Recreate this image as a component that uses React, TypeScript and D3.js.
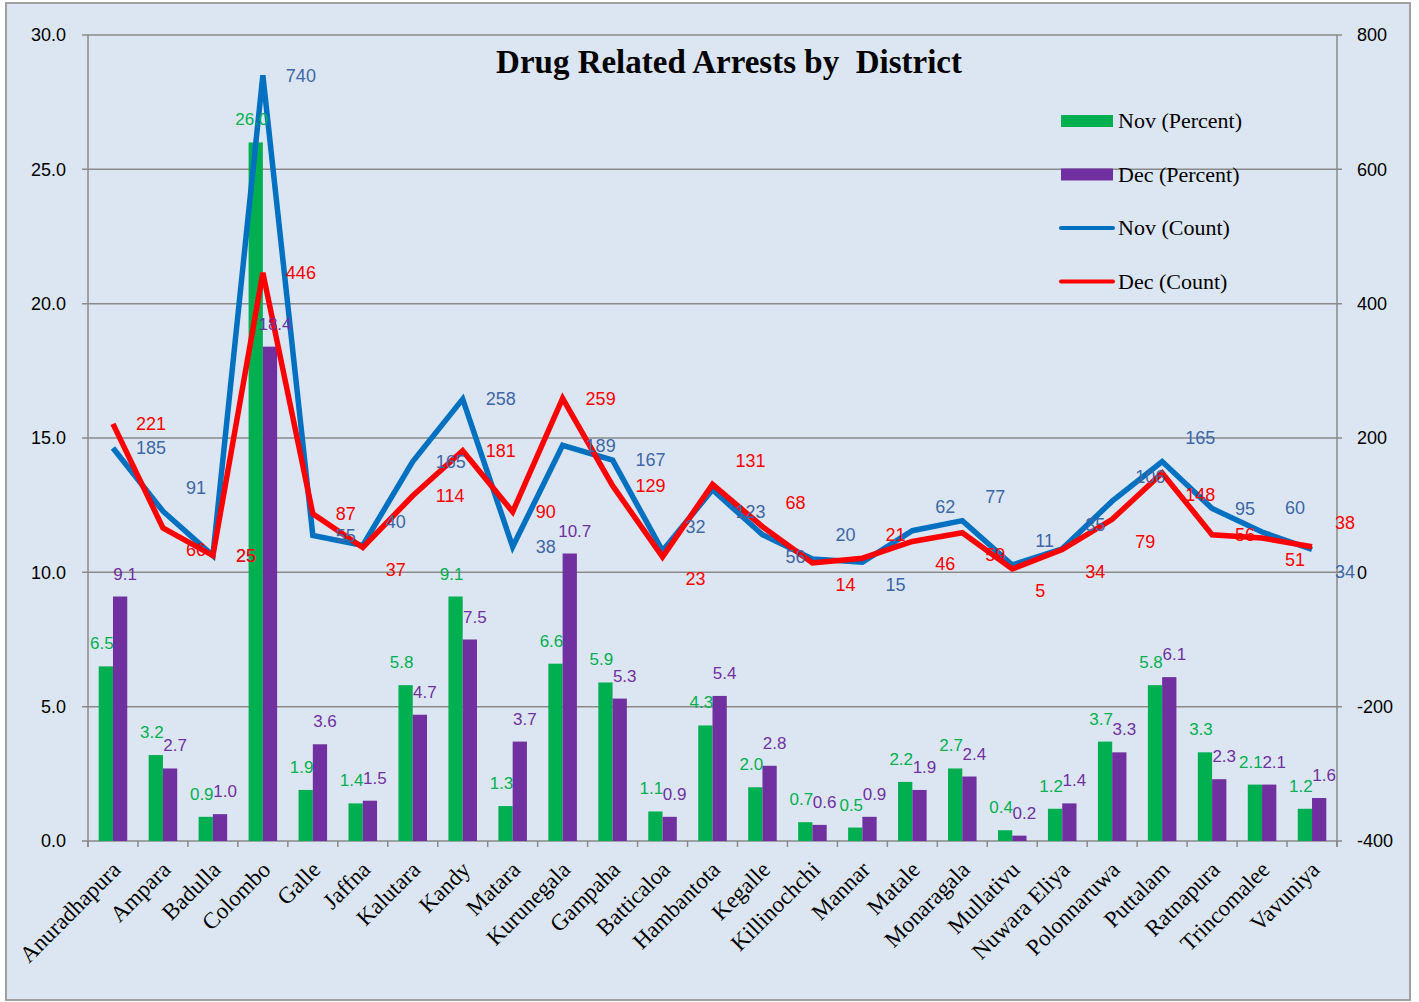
import { useEffect, useRef } from 'react';
import * as d3 from 'd3';

const districts = [
  'Anuradhapura', 'Ampara', 'Badulla', 'Colombo', 'Galle', 'Jaffna', 'Kalutara', 'Kandy', 'Matara',
  'Kurunegala', 'Gampaha', 'Batticaloa', 'Hambantota', 'Kegalle', 'Killinochchi', 'Mannar', 'Matale',
  'Monaragala', 'Mullativu', 'Nuwara Eliya', 'Polonnaruwa', 'Puttalam', 'Ratnapura', 'Trincomalee', 'Vavuniya',
];
const novPercent = [6.5, 3.2, 0.9, 26.0, 1.9, 1.4, 5.8, 9.1, 1.3, 6.6, 5.9, 1.1, 4.3, 2.0, 0.7, 0.5, 2.2, 2.7, 0.4, 1.2, 3.7, 5.8, 3.3, 2.1, 1.2];
const decPercent = [9.1, 2.7, 1.0, 18.4, 3.6, 1.5, 4.7, 7.5, 3.7, 10.7, 5.3, 0.9, 5.4, 2.8, 0.6, 0.9, 1.9, 2.4, 0.2, 1.4, 3.3, 6.1, 2.3, 2.1, 1.6];
const novCount = [185, 91, 25, 740, 55, 40, 165, 258, 38, 189, 167, 32, 123, 56, 20, 15, 62, 77, 11, 35, 106, 165, 95, 60, 34];
const decCount = [221, 66, 25, 446, 87, 37, 114, 181, 90, 259, 129, 23, 131, 68, 14, 21, 46, 59, 5, 34, 79, 148, 56, 51, 38];
const leftTicks = [0, 5, 10, 15, 20, 25, 30];
const rightTicks = [-400, -200, 0, 200, 400, 600, 800];

const SANS = '"Liberation Sans", Arial, sans-serif';
const SERIF = '"Liberation Serif", "Times New Roman", serif';
const GREEN = '#00b050';
const PURPLE = '#7030a0';
const BLUE = '#0070c0';
const RED = '#ff0000';
const GRID = '#8a8a8a';

export default function App() {
  const svgRef = useRef<SVGSVGElement>(null);

  useEffect(() => {
    document.body.style.margin = '0';
    const svg = d3.select(svgRef.current);
    if (!svg.node()) return;
    svg.selectAll('*').remove();

    const width = 1419;
    const height = 1002;
    const plot = { left: 88, right: 1337, top: 35, bottom: 841 };

    svg.attr('viewBox', `0 0 ${width} ${height}`);

    svg.append('rect')
      .attr('x', 6).attr('y', 3).attr('width', 1404).attr('height', 997)
      .attr('fill', '#dce6f2').attr('stroke', '#a0a0a0').attr('stroke-width', 2);

    const x = d3.scaleBand().domain(districts).range([plot.left, plot.right]);
    const x1 = d3.scaleBand().domain(['nov', 'dec']).range([0, x.bandwidth()]).paddingOuter(0.75);
    const yL = d3.scaleLinear().domain([0, 30]).range([plot.bottom, plot.top]);
    const yR = d3.scaleLinear().domain([-400, 800]).range([plot.bottom, plot.top]);

    const g = svg.append('g');

    // gridlines
    g.selectAll('line.grid')
      .data(leftTicks)
      .join('line')
      .attr('class', 'grid')
      .attr('x1', plot.left - 6).attr('x2', plot.right + 5)
      .attr('y1', (d) => yL(d)).attr('y2', (d) => yL(d))
      .attr('stroke', GRID).attr('stroke-width', 1.5);

    // axis lines
    g.append('line').attr('x1', plot.left).attr('x2', plot.left).attr('y1', plot.top).attr('y2', plot.bottom + 6)
      .attr('stroke', GRID).attr('stroke-width', 1.5);
    g.append('line').attr('x1', plot.right).attr('x2', plot.right).attr('y1', plot.top).attr('y2', plot.bottom + 6)
      .attr('stroke', GRID).attr('stroke-width', 1.5);

    // category ticks
    const bounds = districts.map((d) => x(d)!).concat([plot.right]);
    g.selectAll('line.ctick')
      .data(bounds)
      .join('line')
      .attr('class', 'ctick')
      .attr('x1', (d) => d).attr('x2', (d) => d)
      .attr('y1', plot.bottom).attr('y2', plot.bottom + 6)
      .attr('stroke', GRID).attr('stroke-width', 1.5);

    g.selectAll('text.lt')
      .data(leftTicks)
      .join('text')
      .attr('class', 'lt')
      .attr('x', 66).attr('y', (d) => yL(d)).attr('dy', '0.35em')
      .attr('text-anchor', 'end')
      .attr('font-family', SANS).attr('font-size', 18).attr('fill', '#000')
      .text((d) => d.toFixed(1));

    g.selectAll('text.rt')
      .data(rightTicks)
      .join('text')
      .attr('class', 'rt')
      .attr('x', 1357).attr('y', (d) => yR(d)).attr('dy', '0.35em')
      .attr('text-anchor', 'start')
      .attr('font-family', SANS).attr('font-size', 18).attr('fill', '#000')
      .text((d) => `${d}`);

    // bars
    const bars = [
      { key: 'nov', values: novPercent, color: GREEN, shift: -4 },
      { key: 'dec', values: decPercent, color: PURPLE, shift: 5 },
    ];
    bars.forEach((s) => {
      g.append('g')
        .selectAll('rect')
        .data(s.values)
        .join('rect')
        .attr('x', (_, i) => x(districts[i])! + x1(s.key)!)
        .attr('width', x1.bandwidth())
        .attr('y', (d) => yL(d))
        .attr('height', (d) => plot.bottom - yL(d))
        .attr('fill', s.color);
    });

    // lines
    const lines = [
      { values: novCount, other: decCount, color: BLUE, label: '#3f67a6' },
      { values: decCount, other: novCount, color: RED, label: RED },
    ];
    const cx = (i: number) => x(districts[i])! + x.bandwidth() / 2;
    lines.forEach((s) => {
      const line = d3.line<number>().x((_, i) => cx(i)).y((d) => yR(d));
      g.append('path')
        .datum(s.values)
        .attr('d', line)
        .attr('fill', 'none')
        .attr('stroke', s.color)
        .attr('stroke-width', 5.5)
        .attr('stroke-linejoin', 'miter');
    });

    // bar labels
    bars.forEach((s) => {
      g.append('g')
        .selectAll('text')
        .data(s.values)
        .join('text')
        .attr('x', (_, i) => x(districts[i])! + x1(s.key)! + x1.bandwidth() / 2 + s.shift)
        .attr('y', (d) => yL(d) - 17)
        .attr('text-anchor', 'middle')
        .attr('font-family', SANS).attr('font-size', 17).attr('fill', s.color)
        .text((d) => d.toFixed(1));
    });

    // line labels: when the two counts are close, push the higher one up and the lower one down
    lines.forEach((s) => {
      g.append('g')
        .selectAll('text')
        .data(s.values)
        .join('text')
        .attr('x', (_, i) => cx(i) + 23)
        .attr('y', (d, i) => {
          const diff = d - s.other[i];
          let shift = 0;
          if (diff !== 0 && Math.abs(diff) < 32) shift = diff > 0 ? -24 : 22;
          return yR(d) + shift;
        })
        .attr('dy', '0.35em')
        .attr('text-anchor', 'start')
        .attr('font-family', SANS).attr('font-size', 18).attr('fill', s.label)
        .text((d) => `${d}`);
    });

    // category labels
    g.selectAll('text.cat')
      .data(districts)
      .join('text')
      .attr('class', 'cat')
      .attr('transform', (d) => `translate(${x(d)! + x.bandwidth() / 2 + 9},${plot.bottom + 30}) rotate(-45)`)
      .attr('text-anchor', 'end')
      .attr('font-family', SERIF).attr('font-size', 23).attr('fill', '#000')
      .text((d) => d);

    // title
    svg.append('text')
      .attr('x', 729).attr('y', 73)
      .attr('text-anchor', 'middle')
      .attr('font-family', SERIF).attr('font-weight', 'bold').attr('font-size', 33)
      .style('white-space', 'pre')
      .text('Drug Related Arrests by  District');

    // legend
    const legend = [
      { name: 'Nov (Percent)', color: GREEN, type: 'bar' },
      { name: 'Dec (Percent)', color: PURPLE, type: 'bar' },
      { name: 'Nov (Count)', color: BLUE, type: 'line' },
      { name: 'Dec (Count)', color: RED, type: 'line' },
    ];
    const lg = svg.append('g').attr('transform', 'translate(1061,121)');
    legend.forEach((l, i) => {
      const row = lg.append('g').attr('transform', `translate(0,${i * 53.5})`);
      if (l.type === 'bar') {
        row.append('rect').attr('x', 0).attr('y', -6).attr('width', 52).attr('height', 12).attr('fill', l.color);
      } else {
        row.append('line').attr('x1', 0).attr('x2', 52).attr('y1', 0).attr('y2', 0)
          .attr('stroke', l.color).attr('stroke-width', 4).attr('stroke-linecap', 'round');
      }
      row.append('text')
        .attr('x', 57).attr('y', 7)
        .attr('font-family', SERIF).attr('font-size', 22).attr('fill', '#000')
        .text(l.name);
    });
  }, []);

  return <svg ref={svgRef} width={1419} height={1002} style={{ display: 'block' }} />;
}
